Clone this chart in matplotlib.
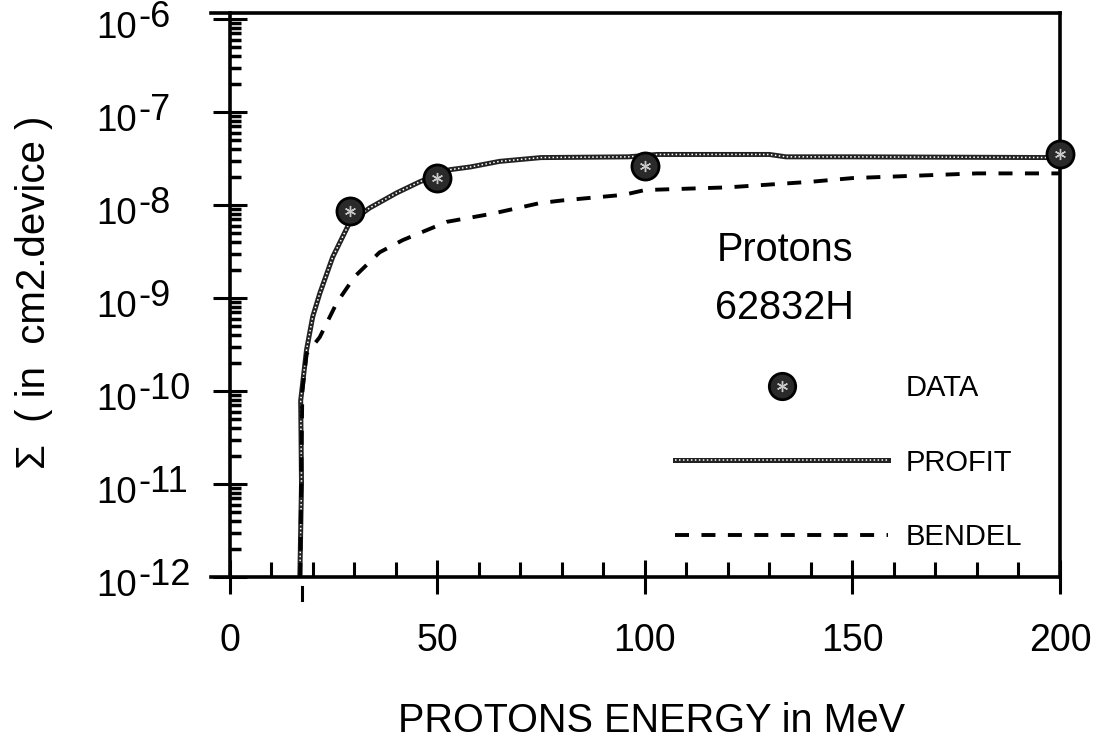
import matplotlib
matplotlib.use("Agg")
import matplotlib.pyplot as plt
from matplotlib.ticker import MultipleLocator, LogLocator, FixedLocator, NullFormatter
from matplotlib.lines import Line2D
import numpy as np

plt.rcParams['font.family'] = ['Liberation Sans', 'DejaVu Sans']

# measured cross sections (cm2 per device)
data_energy = [29, 50, 100, 200]
data_sigma = [8.6e-9, 1.95e-8, 2.6e-8, 3.5e-8]

# PROFIT prediction
profit_energy = [16.9, 17.3, 17.1, 18.5, 20.0, 21.7, 24.8, 28.9, 33.7, 40.2, 45.8,
                 53.0, 58.0, 65.0, 75.0, 96.0, 103.0, 130.0, 134.0, 150.0, 200.0]
profit_sigma = [1.0e-12, 1.0e-11, 7.9e-11, 2.75e-10, 6.3e-10, 1.12e-9, 2.75e-9, 6.5e-9,
                9.3e-9, 1.35e-8, 1.78e-8, 2.4e-8, 2.57e-8, 2.95e-8, 3.24e-8, 3.3e-8,
                3.5e-8, 3.5e-8, 3.3e-8, 3.3e-8, 3.24e-8]

# BENDEL prediction
bendel_energy = [17.0, 17.2, 17.5, 18.5, 21.7, 25.8, 30.1, 36.1, 41.7, 52.3, 63.4,
                 74.7, 80.0, 95.0, 100.0, 120.0, 140.0, 150.0, 180.0, 200.0]
bendel_sigma = [1.0e-12, 1.0e-11, 1.0e-10, 2.5e-10, 3.8e-10, 8.9e-10, 1.7e-9, 3.1e-9,
                4.2e-9, 6.6e-9, 8.1e-9, 1.05e-8, 1.12e-8, 1.29e-8, 1.45e-8, 1.55e-8,
                1.78e-8, 1.95e-8, 2.19e-8, 2.19e-8]

threshold = 17.5
x_ticks = [0, 50, 100, 150, 200]
y_exponents = [-12, -11, -10, -9, -8, -7, -6]

fig = plt.figure(figsize=(10.99, 7.45), dpi=100)
ax = fig.add_axes([0.192, 0.2255, 0.7725, 0.757])
ax.set_yscale('log')
ax.set_xlim(-4.5, 200)
ax.set_ylim(1e-12, 10 ** -5.935)

# frame
for s in ['top', 'bottom', 'right', 'left']:
    ax.spines[s].set_linewidth(2.6)
ax.spines['left'].set_position(('data', 0))

# profit: dark line with a light dotted core
ax.plot(profit_energy, profit_sigma, color='#222222', lw=3.6, solid_capstyle='butt')
ax.plot(profit_energy, profit_sigma, color='white', lw=1.1, ls=(0, (1, 1.6)))
# bendel: thick dashes
ax.plot(bendel_energy, bendel_sigma, color='black', lw=2.8, ls=(0, (3.6, 3.2)))

# data points
ax.plot(data_energy, data_sigma, 'o', ms=19.5, mfc='#2a2a2a', mec='black', mew=2,
        clip_on=False, zorder=5)
ax.plot(data_energy, data_sigma, marker=(6, 2, 0), ls='none', ms=8, mec='#c8c8c8',
        mew=1.0, clip_on=False, zorder=6)

# axis ticks
ax.xaxis.set_major_locator(FixedLocator(x_ticks))
ax.xaxis.set_minor_locator(MultipleLocator(10))
ax.yaxis.set_major_locator(FixedLocator([10.0 ** e for e in y_exponents]))
ax.yaxis.set_minor_locator(LogLocator(base=10, subs=np.arange(2, 10), numticks=50))
ax.yaxis.set_major_formatter(NullFormatter())
ax.yaxis.set_minor_formatter(NullFormatter())
ax.set_xticklabels([str(v) for v in x_ticks])

ax.tick_params(axis='x', which='major', direction='inout', length=24, width=2.2,
               labelsize=27, pad=21, top=False)
ax.tick_params(axis='x', which='minor', direction='in', length=11, width=2.2, top=False)
ax.tick_params(axis='y', which='major', direction='inout', length=24, width=2.2,
               right=False)
ax.tick_params(axis='y', which='minor', direction='in', length=8, width=2.5, right=False)

# decade labels: "10" with the raised exponent at full size
ytr = ax.get_yaxis_transform()
for e in y_exponents:
    ax.annotate('10', xy=(0, 10.0 ** e), xycoords=ytr, xytext=(-115, -9),
                textcoords='offset pixels', fontsize=26.5, ha='left', va='center')
    ax.annotate('-%d' % -e, xy=(0, 10.0 ** e), xycoords=ytr, xytext=(-73, 2),
                textcoords='offset pixels', fontsize=26, ha='left', va='center')

# threshold mark under the axis
ax.plot([threshold, threshold], [-0.018, -0.04], color='black', lw=2.2,
        transform=ax.get_xaxis_transform(), clip_on=False)

ax.set_xlabel('PROTONS ENERGY in MeV', fontsize=28.5)
ax.xaxis.set_label_coords(0.519, -0.222)
ax.set_ylabel('Σ  ( in  cm2.device )', fontsize=29)
ax.yaxis.set_label_coords(-0.186, 0.505)

ax.text(0.676, 0.58, 'Protons', transform=ax.transAxes, fontsize=28.5,
        ha='center', va='center')
ax.text(0.676, 0.477, '62832H', transform=ax.transAxes, fontsize=28.5,
        ha='center', va='center')

# legend
h_data = (Line2D([], [], marker='o', ls='none', ms=19, mfc='#2a2a2a', mec='black', mew=2),
          Line2D([], [], marker=(6, 2, 0), ls='none', ms=8, mec='#c8c8c8', mew=1.0))
h_profit = (Line2D([], [], color='#222222', lw=3.6),
            Line2D([], [], color='white', lw=1.1, ls=(0, (1, 1.6))))
h_bendel = Line2D([], [], color='black', lw=2.8, ls=(0, (3.6, 3.2)))
ax.legend([h_data, h_profit, h_bendel], ['DATA', 'PROFIT', 'BENDEL'],
          loc='upper left', bbox_to_anchor=(0.547, 0.36), frameon=False,
          fontsize=21, handlelength=7.3, handletextpad=0.6, labelspacing=1.6,
          borderpad=0, borderaxespad=0)

fig.savefig('out.png', dpi=100)
